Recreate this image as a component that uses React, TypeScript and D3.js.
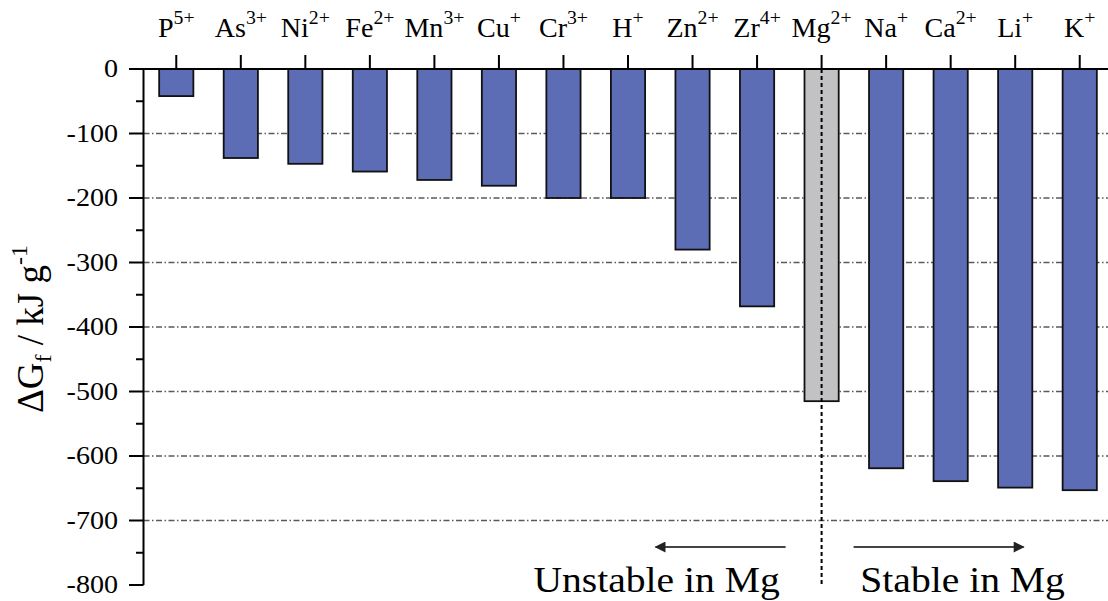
import React, { useEffect, useRef } from "react";
import * as d3 from "d3";

// ions along the top axis, base symbol + superscript charge
const ions = ["P", "As", "Ni", "Fe", "Mn", "Cu", "Cr", "H", "Zn", "Zr", "Mg", "Na", "Ca", "Li", "K"];
const charges = ["5+", "3+", "2+", "2+", "3+", "+", "3+", "+", "2+", "4+", "2+", "+", "2+", "+", "+"];
// formation free energy, kJ/g
const dG = [-42, -138, -147, -159, -172, -181, -200, -200, -280, -368, -515, -619, -639, -649, -653];
const yTicks = [0, -100, -200, -300, -400, -500, -600, -700, -800];
const gridTicks = [-100, -200, -300, -400, -500, -600, -700];
const reference = "Mg";

const W = 1108;
const H = 601;
const FONT = "'Liberation Serif', 'DejaVu Serif', serif";

export default function App() {
  const svgRef = useRef<SVGSVGElement | null>(null);

  useEffect(() => {
    const svg = d3.select(svgRef.current);
    svg.selectAll("*").remove();

    const x = d3.scaleBand<string>().domain(ions).range([144, 1112]).paddingInner(0.47).paddingOuter(0.235);
    const y = d3.scaleLinear().domain([-800, 0]).range([585, 69]);
    const axisX = 143.5;

    // dash-dot grid lines (behind bars)
    svg.append("g")
      .selectAll("line")
      .data(gridTicks)
      .join("line")
      .attr("x1", axisX)
      .attr("x2", W)
      .attr("y1", d => y(d))
      .attr("y2", d => y(d))
      .attr("stroke", "#5a5a5a")
      .attr("stroke-width", 1.3)
      .attr("stroke-dasharray", "6,2.5,1.5,2.5");

    // bars
    const data = ions.map((ion, i) => ({ ion, v: dG[i] }));
    svg.append("g")
      .selectAll("rect")
      .data(data)
      .join("rect")
      .attr("x", d => x(d.ion)!)
      .attr("y", y(0))
      .attr("width", x.bandwidth())
      .attr("height", d => y(d.v) - y(0))
      .attr("fill", d => (d.ion === reference ? "#c2c2c4" : "#5c6db5"))
      .attr("stroke", "#111")
      .attr("stroke-width", 1.8);

    // y axis with major + minor ticks
    const ax = svg.append("g").attr("stroke", "#000").attr("stroke-width", 2);
    ax.append("line").attr("x1", axisX).attr("x2", axisX).attr("y1", y(0)).attr("y2", y(-800));
    ax.selectAll(".maj")
      .data(yTicks)
      .join("line")
      .attr("x1", 129)
      .attr("x2", axisX)
      .attr("y1", d => y(d))
      .attr("y2", d => y(d));
    ax.selectAll(".min")
      .data(d3.range(-750, 0, 100))
      .join("line")
      .attr("x1", 136)
      .attr("x2", axisX)
      .attr("y1", d => y(d))
      .attr("y2", d => y(d));

    // top x axis
    ax.append("line").attr("x1", 129).attr("x2", W).attr("y1", y(0)).attr("y2", y(0));
    ax.selectAll(".xt")
      .data(ions)
      .join("line")
      .attr("x1", d => x(d)! + x.bandwidth() / 2)
      .attr("x2", d => x(d)! + x.bandwidth() / 2)
      .attr("y1", y(0) - 14)
      .attr("y2", y(0));

    // y tick labels
    svg.append("g")
      .selectAll("text")
      .data(yTicks)
      .join("text")
      .attr("transform", d => `translate(118,${y(d) + 8}) scale(1.08,1)`)
      .attr("text-anchor", "end")
      .attr("font-family", FONT)
      .attr("font-size", 26)
      .text(d => String(d));

    // ion labels with superscript charge
    const lab = svg.append("g")
      .selectAll("text")
      .data(ions)
      .join("text")
      .attr("transform", d => `translate(${x(d)! + x.bandwidth() / 2},37) scale(1.04,1)`)
      .attr("text-anchor", "middle")
      .attr("font-family", FONT)
      .attr("font-size", 27);
    lab.append("tspan").text(d => d);
    lab.append("tspan")
      .attr("dy", -13)
      .attr("font-size", 19)
      .text((d, i) => charges[i]);

    // dotted divider through the Mg bar
    const mgX = x(reference)! + x.bandwidth() / 2;
    svg.append("line")
      .attr("x1", mgX)
      .attr("x2", mgX)
      .attr("y1", y(0))
      .attr("y2", y(-800))
      .attr("stroke", "#000")
      .attr("stroke-width", 2)
      .attr("stroke-dasharray", "4,3");

    // arrows
    const defs = svg.append("defs");
    defs.append("marker")
      .attr("id", "ah")
      .attr("viewBox", "0 0 10 10")
      .attr("refX", 9)
      .attr("refY", 5)
      .attr("markerWidth", 11)
      .attr("markerHeight", 5.5)
      .attr("markerUnits", "strokeWidth")
      .attr("orient", "auto")
      .append("path")
      .attr("d", "M0,0 L10,5 L0,10 Z")
      .attr("fill", "#222");
    const arrowY = 547;
    svg.append("line")
      .attr("x1", mgX - 36).attr("x2", mgX - 166)
      .attr("y1", arrowY).attr("y2", arrowY)
      .attr("stroke", "#444").attr("stroke-width", 2)
      .attr("marker-end", "url(#ah)");
    svg.append("line")
      .attr("x1", mgX + 32).attr("x2", mgX + 202)
      .attr("y1", arrowY).attr("y2", arrowY)
      .attr("stroke", "#444").attr("stroke-width", 2)
      .attr("marker-end", "url(#ah)");

    svg.append("text")
      .attr("transform", `translate(${mgX - 165},592) scale(1.1,1)`)
      .attr("text-anchor", "middle")
      .attr("font-family", FONT)
      .attr("font-size", 36)
      .text("Unstable in Mg");
    svg.append("text")
      .attr("transform", `translate(${mgX + 141},592) scale(1.1,1)`)
      .attr("text-anchor", "middle")
      .attr("font-family", FONT)
      .attr("font-size", 36)
      .text("Stable in Mg");

    // y axis title: ΔG_f / kJ g^-1
    const t = svg.append("text")
      .attr("transform", "translate(43,329) rotate(-90)")
      .attr("text-anchor", "middle")
      .attr("font-family", FONT)
      .attr("font-size", 37);
    t.append("tspan").text("\u0394G");
    t.append("tspan").attr("dy", 8).attr("font-size", 24).text("f");
    t.append("tspan").attr("dy", -8).text(" / kJ g");
    t.append("tspan").attr("dy", -16).attr("font-size", 24).text("-1");
  }, []);

  return (
    <svg
      ref={svgRef}
      width={W}
      height={H}
      style={{ position: "absolute", left: 0, top: 0, background: "#fff" }}
    />
  );
}
